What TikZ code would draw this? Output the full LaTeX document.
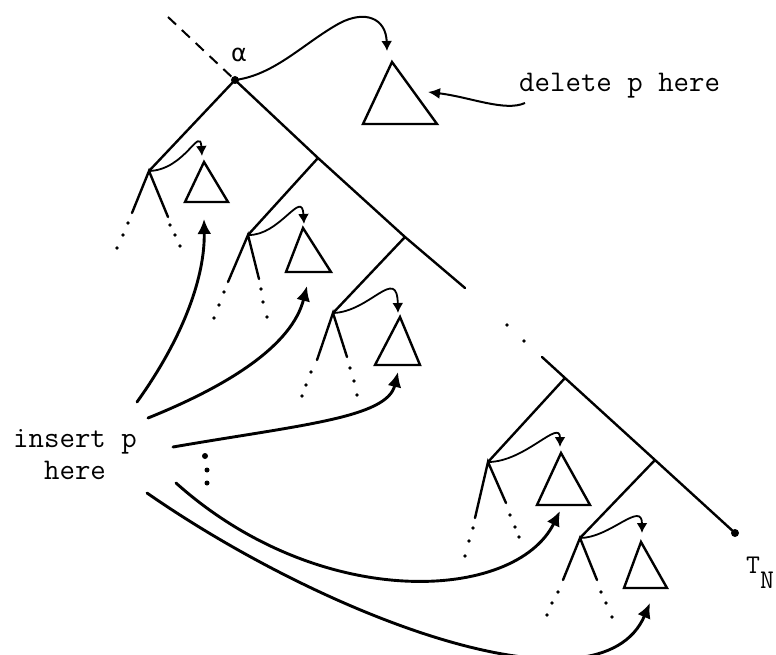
\documentclass[tikz,border=0pt]{standalone}
\usepackage{fontspec}
\newfontfamily\dejavu{DejaVu Sans}
\usetikzlibrary{arrows.meta}
\tikzset{
  tree/.style={line width=2.4pt, line cap=round},
  tri/.style={line width=2.4pt, line join=miter},
  smallarr/.style={line width=1.8pt, -{Latex[length=10pt,width=11pt]}},
  bigarr/.style={line width=2.9pt, line cap=round, -{Latex[length=15pt,width=14pt]}},
  pdot/.style={circle, fill, inner sep=0pt, minimum size=3.6pt},
  bigdot/.style={circle, fill, inner sep=0pt, minimum size=8pt},
  lbl/.style={font=\ttfamily\fontsize{30}{32}\selectfont, inner sep=0pt},
}
\begin{document}
\begin{tikzpicture}[x=1pt,y=-1pt]
\useasboundingbox (0,0) rectangle (776,655);
\clip (0,0) rectangle (776,655);
% spine points
\coordinate (dstart) at (168,17);
\node[bigdot] (a) at (235,80) {};
\coordinate (J1) at (318,158);
\coordinate (J2) at (405,237);
\coordinate (S1) at (465,288);
\coordinate (S2) at (542,357);
\coordinate (J3) at (565,378);
\coordinate (J4) at (655,460);
\node[bigdot] (E) at (735,533) {};
% left children
\coordinate (L1) at (149,171);
\coordinate (L2) at (248,235);
\coordinate (L3) at (333,313);
\coordinate (L4) at (488,462);
\coordinate (L5) at (580,538);
% legs
\coordinate (L1l) at (132,213); \coordinate (L1r) at (168,217);
\coordinate (L2l) at (228,282); \coordinate (L2r) at (259,279);
\coordinate (L3l) at (317,360); \coordinate (L3r) at (347,357);
\coordinate (L4l) at (475,518); \coordinate (L4r) at (506,503);
\coordinate (L5l) at (563,580); \coordinate (L5r) at (597,580);

\draw[line width=2pt, dash pattern=on 11pt off 8pt] (dstart) -- (a.center);
\draw[tree] (a.center) -- (J1) -- (J2) -- (S1);
\draw[tree] (S2) -- (J3) -- (J4) -- (E.center);
\draw[tree] (a.center) -- (L1);
\draw[tree] (J1) -- (L2);
\draw[tree] (J2) -- (L3);
\draw[tree] (J3) -- (L4);
\draw[tree] (J4) -- (L5);
\foreach \n in {1,...,5}{
  \draw[tree] (L\n l) -- (L\n) -- (L\n r);
}
% spine gap dots
\node[pdot] (sd1) at (507,325) {};
\node[pdot] (sd2) at (524,341) {};
% leg dots
\foreach \p in {(128,223),(123,235),(117,248),(170,225),(175,235),(180,246),
  (224,292),(219,305),(214,318),(261,289),(263,302),(267,317),
  (311,372),(306,385),(302,396),(350,368),(354,381),(357,395),
  (473,528),(469,541),(465,556),(510,515),(515,527),(519,537),
  (558,592),(552,603),(547,615),(601,592),(606,603),(612,617)}{
  \node[pdot] at \p {};
}
% triangles
\draw[tri] (363,124) -- (392,62) -- (437,124) -- cycle;
\draw[tri] (185,202) -- (204,162) -- (228,202) -- cycle;
\draw[tri] (286,272) -- (303,228) -- (331,272) -- cycle;
\draw[tri] (375,365) -- (400,317) -- (420,365) -- cycle;
\draw[tri] (537,505) -- (561,453) -- (590,505) -- cycle;
\draw[tri] (624,588) -- (641,542) -- (667,588) -- cycle;
\coordinate (t0in) at (387,51);
\coordinate (t0side) at (428,92);
\coordinate (t1in) at (202,156); \coordinate (t1out) at (204,219);
\coordinate (t2in) at (304,224); \coordinate (t2out) at (307,286);
\coordinate (t3in) at (398,313); \coordinate (t3out) at (398,372);
\coordinate (t4in) at (560,447); \coordinate (t4out) at (560,511);
\coordinate (t5in) at (642,533); \coordinate (t5out) at (650,603);
% small arrows
\draw[smallarr, line width=2pt] (a.center) .. controls (275,75) and (305,42) .. (340,23) .. controls (365,10) and (386,18) .. (t0in);
\draw[smallarr] (L1) .. controls (185,170) and (200,125) .. (t1in);
\draw[smallarr] (L2) .. controls (280,236) and (302,188) .. (t2in);
\draw[smallarr] (L3) .. controls (370,312) and (397,265) .. (t3in);
\draw[smallarr] (L4) .. controls (525,462) and (560,418) .. (t4in);
\draw[smallarr] (L5) .. controls (610,538) and (642,500) .. (t5in);
% labels
\node[lbl, anchor=base west] (del) at (519,92) {delete p here};
\coordinate (delfrom) at (525,103);
\draw[line width=2pt, -{Latex[length=12pt,width=11pt]}] (delfrom) .. controls (505,112) and (470,97) .. (t0side);
\node[font=\dejavu\fontsize{24}{24}\selectfont, inner sep=0pt] (alpha) at (239,55) {α};
\node[lbl, font=\ttfamily\fontsize{27}{27}\selectfont, anchor=base west] (tn) at (746,573) {T\raisebox{-15pt}{N}};
\node[lbl, align=center] (ins) at (75,455) {insert p\\here};
% insert arrows
\coordinate (i1) at (137,402);
\coordinate (i2) at (148,418);
\coordinate (i3) at (173,447);
\coordinate (i4) at (176,483);
\coordinate (i5) at (147,493);
\draw[bigarr] (i1) .. controls (185,335) and (205,275) .. (t1out);
\draw[bigarr] (i2) .. controls (230,385) and (292,345) .. (t2out);
\draw[bigarr] (i3) .. controls (300,425) and (387,418) .. (t3out);
\draw[bigarr] (i4) .. controls (320,612) and (515,602) .. (t4out);
\draw[bigarr] (i5) .. controls (330,620) and (600,720) .. (t5out);
\node[circle, fill, inner sep=0pt, minimum size=6pt] (v1) at (205,456) {};
\node[circle, fill, inner sep=0pt, minimum size=5pt] (v2) at (207,470) {};
\node[circle, fill, inner sep=0pt, minimum size=5pt] (v3) at (207,483) {};
\end{tikzpicture}
\end{document}
